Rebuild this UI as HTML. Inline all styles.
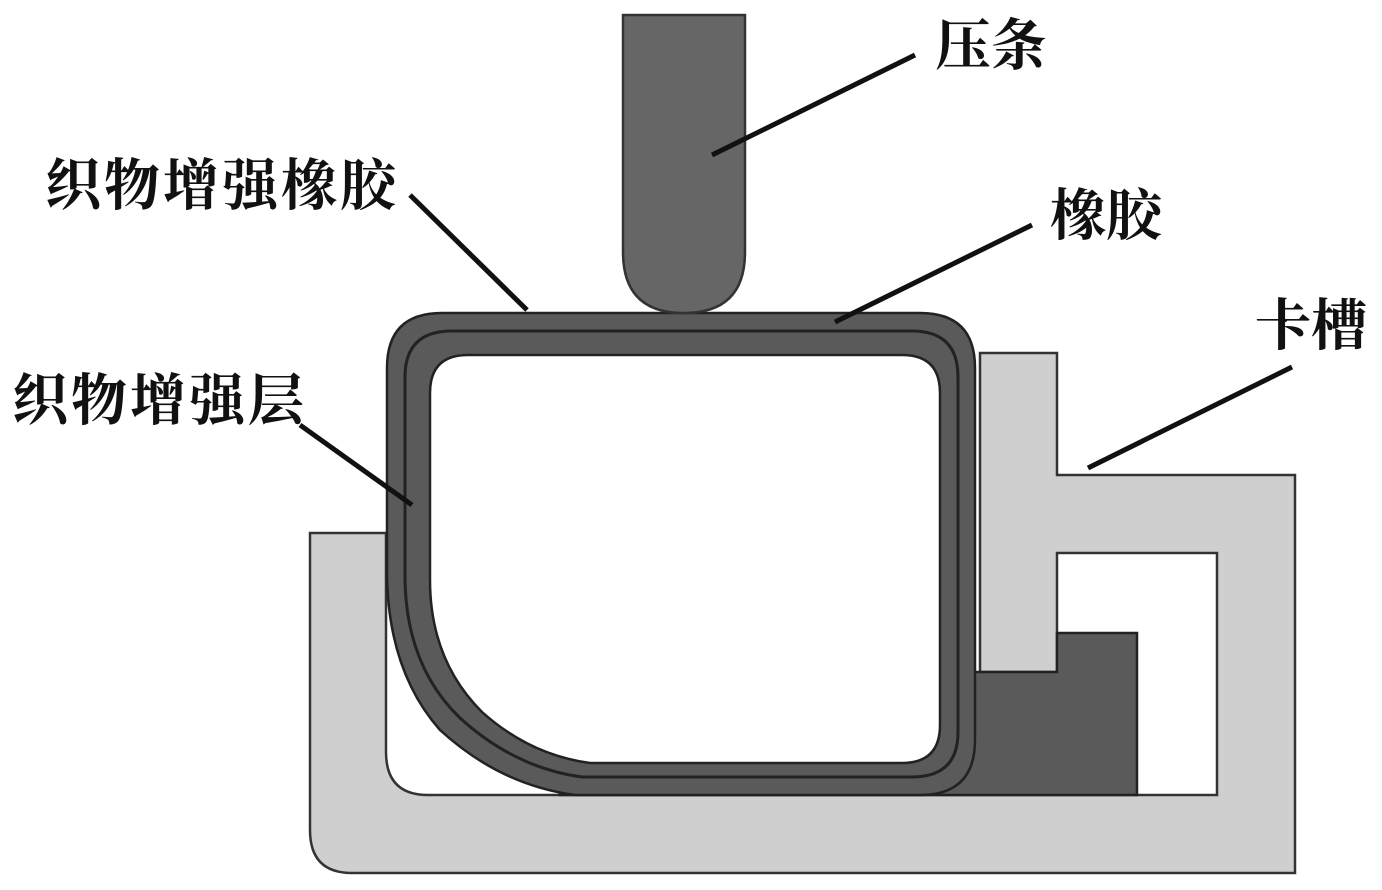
<!DOCTYPE html>
<html><head><meta charset="utf-8"><style>
html,body{margin:0;padding:0;background:#fff;}
svg{display:block}
text{font-family:"Liberation Serif","Noto Serif CJK SC",serif;font-size:56px;font-weight:bold;fill:#111;}
</style></head><body>
<svg width="1382" height="890" viewBox="0 0 1382 890" xmlns="http://www.w3.org/2000/svg">
<!-- clip (卡槽) base -->
<path d="M310,533 L386,533 L386,752 Q386,795 428,795 L1217,795 L1217,553 L1057,553 L1057,672 L980,672 L980,353 L1057,353 L1057,475 L1295,475 L1295,873 L352,873 Q310,873 310,830 Z" fill="#cfcfcf" stroke="#333" stroke-width="2.5"/>
<!-- dark foot -->
<path d="M960,672 L1057,672 L1057,633 L1137,633 L1137,795 L560,795 L560,740 L960,740 Z" fill="#5a5a5a" stroke="#222" stroke-width="2.5"/>
<!-- seal outer -->
<path d="M442,313 L920,313 Q975,313 975,368 L975,740 Q975,795 920,795 L575,795 Q500,785 440,730 Q387,670 387,570 L387,368 Q387,313 442,313 Z" fill="#5a5a5a" stroke="#222" stroke-width="2.5"/>
<!-- fabric layer line -->
<path d="M452,331 L912,331 Q958,331 958,377 L958,732 Q958,777 912,777 L582,777 Q515,768 460,718 Q405,665 405,575 L405,377 Q405,331 452,331 Z" fill="none" stroke="#222" stroke-width="3"/>
<!-- inner white -->
<path d="M468,355 L902,355 Q940,355 940,393 L940,725 Q940,763 902,763 L590,763 Q530,755 482,712 Q430,660 430,580 L430,393 Q430,355 468,355 Z" fill="#fff" stroke="#222" stroke-width="2.5"/>
<!-- press bar -->
<path d="M623,15 L745,15 L745,252 Q745,313 684,313 Q623,313 623,252 Z" fill="#666" stroke="#333" stroke-width="2.5"/>
<!-- leader lines -->
<g stroke="#111" stroke-width="5" stroke-linecap="butt">
<line x1="915" y1="55" x2="712" y2="155"/>
<line x1="410" y1="195" x2="527" y2="310"/>
<line x1="1032" y1="225" x2="835" y2="322"/>
<line x1="1292" y1="367" x2="1088" y2="468"/>
<line x1="300" y1="425" x2="412" y2="505"/>
</g>
<text x="935" y="65">压条</text>
<text x="45" y="205" letter-spacing="3">织物增强橡胶</text>
<text x="1050" y="235">橡胶</text>
<text x="1255" y="345">卡槽</text>
<text x="12" y="420" letter-spacing="3">织物增强层</text>
</svg>
</body></html>
